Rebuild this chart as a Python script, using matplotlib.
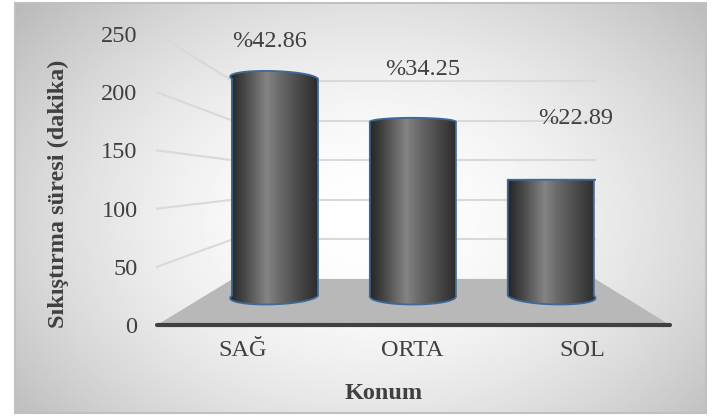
import numpy as np
import matplotlib.pyplot as plt
from matplotlib.patches import Polygon, Rectangle
from matplotlib.colors import LinearSegmentedColormap

plt.rcParams['font.family'] = ['Liberation Serif', 'DejaVu Serif']

# data
konum = ['SAĞ', 'ORTA', 'SOL']
sure = [234, 187, 125]            # sıkıştırma süresi (dakika)
yuzde = ['%42.86', '%34.25', '%22.89']
yticks = [0, 50, 100, 150, 200, 250]

txt_col = '#404040'
fs = 17.5

# simple perspective: front plane is the axes data space, depth d in [0, 1]
VX, VY = 1.015, 123.7
def proj(x, v, d):
    d = np.asarray(d, dtype=float)
    sx = 1 - 0.293 * d
    sy = 1 - 0.32 * d
    return VX + sx * (np.asarray(x) - VX), VY + sy * (np.asarray(v) - VY)

x0, x1 = -0.507, 2.52
d_bar, r_bar, dz_bar = 0.635, 0.312, 0.19

fig = plt.figure(figsize=(7.19, 4.17), dpi=100)

# background with soft radial shading and frame
bg = fig.add_axes([0, 0, 1, 1], zorder=-5)
bg.axis('off')
gx, gy = np.meshgrid(np.linspace(15, 706, 300), np.linspace(3, 413, 200))
rr = ((gx - 370) / 360) ** 2 + ((gy - 220) / 260) ** 2
shade = 1 - 0.28 * (np.clip(rr, 0, 1.69) / 1.69) ** 0.9
bg.imshow(shade, cmap='gray', vmin=0, vmax=1, extent=(15, 706, 413, 3),
          aspect='auto', interpolation='bilinear')
bg.add_patch(Rectangle((15, 3), 691, 410, fill=False, ec='#c0c0c0', lw=1.5))
bg.set_xlim(0, 719)
bg.set_ylim(417, 0)

ax = fig.add_axes([157 / 719, (417 - 325) / 417, 513 / 719, 291 / 417])
ax.patch.set_visible(False)

# floor
fx = [x0, x1, x1, x0]
fd = [0, 0, 1, 1]
px, py = proj(fx, [0] * 4, fd)
ax.add_patch(Polygon(np.column_stack([px, py]), closed=True, fc='#b8b8b8',
                     ec='none', zorder=1, clip_on=False))

# back wall and side wall gridlines
for v in yticks[1:]:
    bx, by = proj([x0, x1], [v, v], [1, 1])
    ax.plot(bx, by, color='#d9d9d9', lw=1.5, zorder=0.5, clip_on=False)
    sx_, sy_ = proj([x0, x0], [v, v], [0, 1])
    ax.plot(sx_, sy_, color='#d9d9d9', lw=1.5, zorder=0.5, clip_on=False)

# front edge of the floor
ax.plot([x0, x1], [0, 0], color='#404040', lw=3, solid_capstyle='round',
        zorder=2, clip_on=False)

# cylinders
cyl_cmap = LinearSegmentedColormap.from_list(
    'cyl', [(0, '#262626'), (0.15, '#444444'), (0.42, '#848484'),
            (0.55, '#6c6c6c'), (0.8, '#474747'), (1, '#2c2c2c')])
t = np.linspace(0, np.pi, 60)
lbl_off = [(-5, 37), (10, 53), (25, 61)]
for i, v in enumerate(sure):
    cx = i + r_bar * np.cos(t)
    front = d_bar - dz_bar * np.sin(t)
    back = d_bar + dz_bar * np.sin(t)
    # top outline: whichever half of the cap sticks out more
    tfx, tfy = proj(cx, np.full_like(t, v), front)
    tbx, tby = proj(cx, np.full_like(t, v), back)
    if tfy.max() >= tby.max():
        topx, topy = tfx, tfy
    else:
        topx, topy = tbx, tby
    bfx, bfy = proj(cx, np.zeros_like(t), front)
    bbx, bby = proj(cx, np.zeros_like(t), back)
    if bfy.min() <= bby.min():
        botx, boty = bfx, bfy
    else:
        botx, boty = bbx, bby
    # top runs right->left (t 0..pi), bottom goes back left->right
    xs = np.concatenate([topx, botx[::-1]])
    ys = np.concatenate([topy, boty[::-1]])
    body = Polygon(np.column_stack([xs, ys]), closed=True, fc='none',
                   ec='#3d6a9a', lw=1.3, zorder=4, clip_on=False)
    ax.add_patch(body)
    grad = np.linspace(0, 1, 200)[None, :]
    im = ax.imshow(grad, cmap=cyl_cmap, extent=(xs.min(), xs.max(), ys.min(), ys.max()),
                   aspect='auto', zorder=3, interpolation='bilinear')
    im.set_clip_path(body)
    # percentage label above the cylinder top
    lx, ly = proj(i, v, d_bar)
    ax.annotate(yuzde[i], (float(lx), float(ly)), xycoords='data', xytext=lbl_off[i],
                textcoords='offset pixels', ha='center', va='center',
                fontsize=fs, color=txt_col, zorder=5, annotation_clip=False)

ax.set_xlim(x0, x1)
ax.set_ylim(0, 250)
for s in ax.spines.values():
    s.set_visible(False)
ax.set_yticks(yticks)
ax.set_yticklabels([str(v) for v in yticks])
ax.set_xticks(range(len(konum)))
ax.set_xticklabels(konum)
ax.tick_params(axis='both', length=0, labelsize=fs, labelcolor=txt_col)
ax.tick_params(axis='y', pad=14)
ax.tick_params(axis='x', pad=11)

ax.set_ylabel('Sıkıştırma süresi (dakika)', fontsize=fs, fontweight='bold',
              color=txt_col, va='center')
ax.yaxis.set_label_coords(-0.193, 0.45)
ax.set_xlabel('Konum', fontsize=fs, fontweight='bold', color=txt_col, va='center')
ax.xaxis.set_label_coords(0.442, -0.234)

plt.savefig('out.png', dpi=100)
